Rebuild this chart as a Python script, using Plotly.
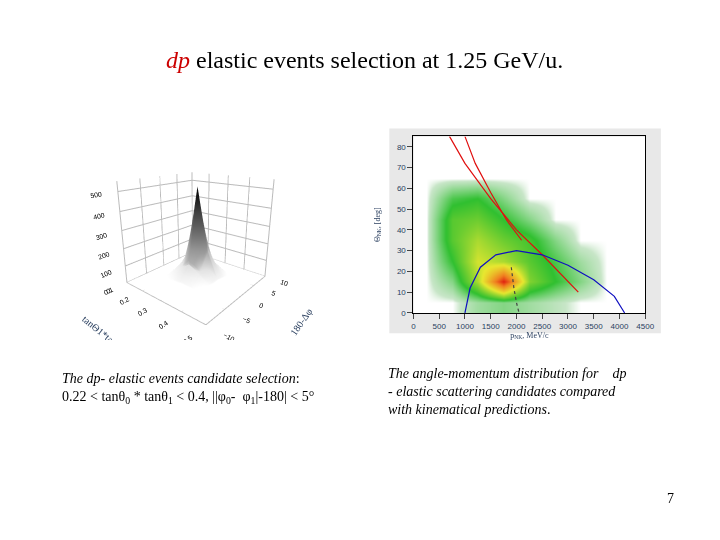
import plotly.graph_objects as go

# Left: 3D histogram of tan0*tan1 vs 180-dphi
surf_x = [0.1, 0.15, 0.2, 0.25, 0.3, 0.35, 0.4, 0.45, 0.5]
surf_y = [-10, -7.5, -5, -2.5, 0, 2.5, 5, 7.5, 10]
surf_z = [
    [0, 0, 0, 0, 0, 0, 0, 0, 0],
    [0, 2, 5, 8, 10, 9, 6, 3, 0],
    [0, 5, 15, 30, 40, 35, 20, 8, 0],
    [0, 10, 30, 70, 120, 90, 40, 12, 0],
    [0, 12, 40, 150, 520, 200, 50, 15, 0],
    [0, 10, 30, 80, 150, 100, 35, 12, 0],
    [0, 6, 15, 30, 45, 35, 18, 6, 0],
    [0, 3, 6, 10, 14, 10, 6, 3, 0],
    [0, 0, 0, 0, 0, 0, 0, 0, 0],
]

# Right: angle-momentum density
hm_x = [250, 750, 1250, 1750, 2250, 2750, 3250, 3750, 4250]
hm_y = [5, 15, 25, 35, 45, 55, 65, 75, 85]
hm_z = [
    [0, 0, 2, 3, 2, 1, 0, 0, 0],
    [0, 3, 12, 30, 10, 6, 3, 0, 0],
    [0, 6, 14, 12, 8, 5, 2, 0, 0],
    [0, 8, 12, 9, 7, 3, 0, 0, 0],
    [0, 8, 9, 6, 3, 0, 0, 0, 0],
    [0, 5, 6, 3, 0, 0, 0, 0, 0],
    [0, 0, 0, 0, 0, 0, 0, 0, 0],
    [0, 0, 0, 0, 0, 0, 0, 0, 0],
    [0, 0, 0, 0, 0, 0, 0, 0, 0],
]
red1_x = [700, 1000, 1500, 2000, 2500, 3000, 3200]
red1_y = [85, 72, 55, 40, 28, 15, 10]
red2_x = [1000, 1200, 1500, 1800, 2100]
red2_y = [85, 72, 58, 45, 35]
blue_x = [1000, 1100, 1300, 1600, 2000, 2500, 3000, 3500, 3900, 4100]
blue_y = [0, 12, 22, 28, 30, 28, 23, 16, 8, 0]
dot_x = [1900, 1950, 2000, 2050]
dot_y = [22, 12, 5, 0]

fig = go.Figure()
fig.add_trace(go.Surface(x=surf_x, y=surf_y, z=surf_z, colorscale="Greys",
                         showscale=False, scene="scene"))
fig.add_trace(go.Heatmap(x=hm_x, y=hm_y, z=hm_z, zsmooth="best", showscale=False,
    colorscale=[[0, "white"], [0.02, "#c8e6c8"], [0.2, "#30c030"], [0.5, "#e8e830"], [0.8, "#f08020"], [1, "#e02010"]],
    xaxis="x", yaxis="y"))
for xs, ys, c, d in [(red1_x, red1_y, "#e01010", "solid"), (red2_x, red2_y, "#e01010", "solid"),
                     (blue_x, blue_y, "#1010c0", "solid"), (dot_x, dot_y, "#444444", "dot")]:
    fig.add_trace(go.Scatter(x=xs, y=ys, mode="lines", line=dict(color=c, dash=d, width=1.2),
                             showlegend=False, xaxis="x", yaxis="y"))

ax3 = dict(tickfont=dict(size=9, family="Liberation Sans", color="black"), backgroundcolor="white",
           gridcolor="#bbbbbb", showbackground=True)
fig.update_layout(
    width=720, height=540, margin=dict(l=0, r=0, t=0, b=0), paper_bgcolor="white",
    plot_bgcolor="white", showlegend=False, font=dict(family="Liberation Serif"),
    scene=dict(domain=dict(x=[0.03, 0.5], y=[0.38, 0.78]),
               xaxis=dict(title=dict(text="tanΘ1*tanΘ2", font=dict(size=10)), range=[0.1, 0.5], dtick=0.1, **ax3),
               yaxis=dict(title=dict(text="180-Δφ", font=dict(size=10)), range=[-10, 10], dtick=5, **ax3),
               zaxis=dict(title=dict(text=""), range=[0, 550], dtick=100, **ax3),
               camera=dict(eye=dict(x=1.5, y=-1.8, z=0.8)), aspectmode="cube"),
    xaxis=dict(domain=[0.569, 0.896], range=[0, 4500], dtick=500, showgrid=False,
               ticks="outside", tickfont=dict(size=8, family="Liberation Sans"), mirror=True,
               showline=True, linecolor="black", title=dict(text="p<sub>NK</sub>, MeV/c", font=dict(size=8), standoff=0)),
    yaxis=dict(domain=[0.43, 0.76], range=[0, 85], dtick=10, showgrid=False,
               ticks="outside", tickfont=dict(size=8, family="Liberation Sans"), mirror=True,
               showline=True, linecolor="black", title=dict(text="Θ<sub>NK</sub>, [deg]", font=dict(size=8))),
    annotations=[
        dict(x=0.5, y=0.93, xref="paper", yref="paper", showarrow=False,
             text="<span style='color:#cc0000'><i>dp</i></span> elastic events selection at 1.25 GeV/u.",
             font=dict(size=24, color="black")),
        dict(x=0.07, y=0.325, yanchor="top", xref="paper", yref="paper", xanchor="left", showarrow=False, align="left",
             text="<i>The dp- elastic events candidate selection</i>:<br>0.22 < tanθ<sub>0</sub> * tanθ<sub>1</sub> < 0.4, ||φ<sub>0</sub>-  φ<sub>1</sub>|-180| < 5°",
             font=dict(size=14, color="black")),
        dict(x=0.53, y=0.335, yanchor="top", xref="paper", yref="paper", xanchor="left", showarrow=False, align="left",
             text="<i>The angle-momentum distribution for    dp<br>- elastic scattering candidates compared<br>with kinematical predictions</i>.",
             font=dict(size=14, color="black")),
        dict(x=0.94, y=0.066, xref="paper", yref="paper", showarrow=False, text="7",
             font=dict(size=14, color="black")),
    ],
    shapes=[dict(type="rect", xref="paper", yref="paper", x0=0.535, x1=0.918, y0=0.392, y1=0.775,
                 fillcolor="#e8e8e8", line=dict(width=0), layer="below")],
)
fig.write_html("out.html")
